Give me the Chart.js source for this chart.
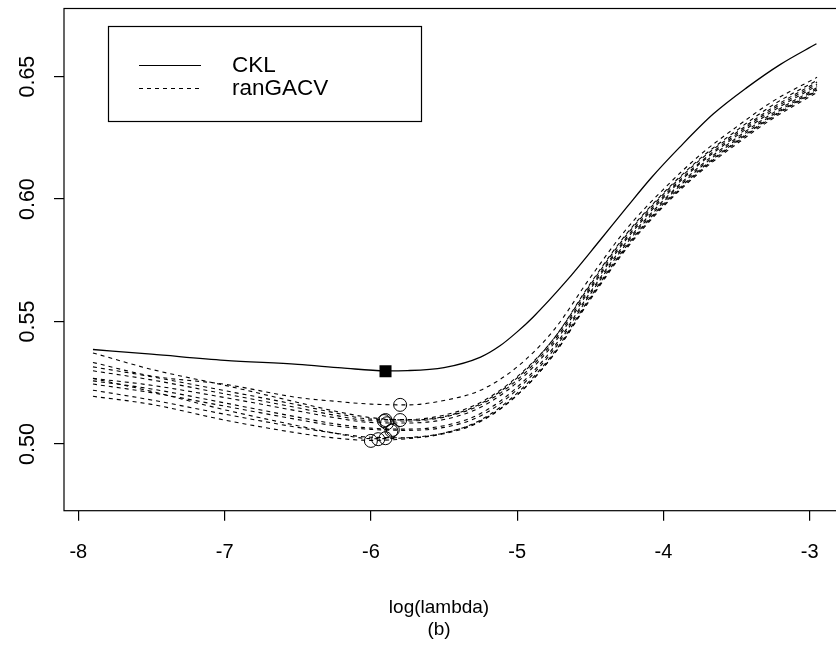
<!DOCTYPE html>
<html><head><meta charset="utf-8">
<script src="https://cdn.jsdelivr.net/npm/chart.js@4"></script>
<style>
html,body{margin:0;padding:0;background:#fff;overflow:hidden;width:836px;height:660px}
#wrap{width:860px;height:660px;position:relative}
</style></head><body><div id="wrap"><canvas id="c" width="860" height="660"></canvas></div>
<script>
// ---- data ----
const xTicks = [-8, -7, -6, -5, -4, -3];
const yTicks = [0.50, 0.55, 0.60, 0.65];
const seriesNames = ['CKL', 'ranGACV'];
const xTitle = ['log(lambda)', '(b)'];

const cklX = [-7.9, -7.5, -7.0, -6.5, -6.2, -5.9, -5.75, -5.5, -5.25, -5.12, -5.0, -4.89, -4.66, -4.435, -4.25, -4.08, -3.89, -3.66, -3.43, -3.2, -2.954];
const cklY = [0.5386, 0.5367, 0.5342, 0.5325, 0.5311, 0.5299, 0.5300, 0.5312, 0.5355, 0.5400, 0.5458, 0.5519, 0.5668, 0.5831, 0.5967, 0.6089, 0.6211, 0.6347, 0.6455, 0.6550, 0.6634];
const cklMinX = [-5.9];
const cklMinY = [0.5297];

const gacvX = [-7.9, -7.5, -7.0, -6.5, -6.25, -6.0, -5.75, -5.5, -5.25, -5.0, -4.75, -4.5, -4.25, -4.0, -3.75, -3.5, -3.25, -2.95];
const gacvA = [0.5333, 0.5278, 0.5244, 0.5190, 0.5175, 0.5163, 0.5160, 0.5178, 0.5220, 0.5315, 0.5465, 0.5680, 0.5880, 0.6040, 0.6180, 0.6295, 0.6400, 0.6497];
const gacvB = [0.5372, 0.5305, 0.5240, 0.5170, 0.5135, 0.5108, 0.5098, 0.5112, 0.5165, 0.5270, 0.5430, 0.5655, 0.5860, 0.6025, 0.6165, 0.6280, 0.6385, 0.6485];
const gacvC = [0.5315, 0.5275, 0.5218, 0.5160, 0.5128, 0.5102, 0.5100, 0.5118, 0.5170, 0.5275, 0.5430, 0.5650, 0.5855, 0.6020, 0.6160, 0.6272, 0.6375, 0.6478];
const gacvD = [0.5299, 0.5262, 0.5205, 0.5148, 0.5118, 0.5095, 0.5094, 0.5110, 0.5160, 0.5262, 0.5420, 0.5640, 0.5845, 0.6012, 0.6150, 0.6265, 0.6368, 0.6470];
const gacvE = [0.5268, 0.5240, 0.5190, 0.5135, 0.5108, 0.5088, 0.5086, 0.5100, 0.5150, 0.5252, 0.5410, 0.5632, 0.5838, 0.6005, 0.6145, 0.6258, 0.6360, 0.6463];
const gacvF = [0.5258, 0.5225, 0.5168, 0.5110, 0.5083, 0.5065, 0.5061, 0.5075, 0.5125, 0.5232, 0.5395, 0.5620, 0.5828, 0.5995, 0.6135, 0.6250, 0.6352, 0.6455];
const gacvG = [0.5245, 0.5210, 0.5155, 0.5100, 0.5075, 0.5060, 0.5056, 0.5068, 0.5115, 0.5222, 0.5385, 0.5612, 0.5820, 0.5988, 0.6128, 0.6243, 0.6345, 0.6450];
const gacvH = [0.5220, 0.5180, 0.5122, 0.5068, 0.5045, 0.5028, 0.5026, 0.5042, 0.5092, 0.5200, 0.5365, 0.5595, 0.5805, 0.5975, 0.6115, 0.6232, 0.6336, 0.6442];
const gacvI = [0.5268, 0.5215, 0.5140, 0.5075, 0.5045, 0.5022, 0.5026, 0.5045, 0.5098, 0.5208, 0.5372, 0.5600, 0.5810, 0.5980, 0.6120, 0.6236, 0.6340, 0.6445];
const gacvJ = [0.5195, 0.5162, 0.5098, 0.5045, 0.5025, 0.5015, 0.5022, 0.5045, 0.5095, 0.5200, 0.5365, 0.5590, 0.5800, 0.5970, 0.6110, 0.6225, 0.6330, 0.6435];
const gacvSeries = [gacvA, gacvB, gacvC, gacvD, gacvE, gacvF, gacvG, gacvH, gacvI, gacvJ];

const gacvMinX = [-5.80, -5.80, -5.90, -5.91, -5.89, -5.85, -5.86, -5.90, -5.95, -6.00];
const gacvMinY = [0.5160, 0.5098, 0.5098, 0.5094, 0.5085, 0.5058, 0.5054, 0.5024, 0.5020, 0.5013];

// ---- build ----
const FONT = '"Liberation Sans", Arial, Helvetica, sans-serif';
const zip = (xs, ys) => xs.map((x, i) => ({x, y: ys[i]}));
const DASH = [4, 4];

const datasets = [];
datasets.push({
  type: 'scatter', label: 'cklmin', data: zip(cklMinX, cklMinY), order: 0,
  pointStyle: 'rect', pointRadius: 8.5, backgroundColor: '#000', borderColor: '#000', borderWidth: 0
});
datasets.push({
  type: 'scatter', label: 'gacvmin', data: zip(gacvMinX, gacvMinY), order: 0,
  pointStyle: 'circle', pointRadius: 6.5, backgroundColor: 'rgba(0,0,0,0)', borderColor: '#000', borderWidth: 1
});
datasets.push({
  type: 'line', label: seriesNames[0], data: zip(cklX, cklY), order: 1,
  borderColor: '#000', borderWidth: 1.3, pointRadius: 0, fill: false, cubicInterpolationMode: 'monotone'
});
gacvSeries.forEach((ys, i) => datasets.push({
  type: 'line', label: seriesNames[1] + ' ' + (i + 1), data: zip(gacvX, ys), order: 2,
  borderColor: '#000', borderWidth: 1.1, borderDash: DASH, pointRadius: 0, fill: false,
  cubicInterpolationMode: 'monotone'
}));

const framePlugin = {
  id: 'frame',
  afterDatasetsDraw(chart) {
    const {ctx, chartArea: a} = chart;
    ctx.save();
    ctx.strokeStyle = '#000'; ctx.lineWidth = 1.2;
    ctx.strokeRect(a.left, a.top, a.right - a.left, a.bottom - a.top);
    ctx.restore();
  }
};

const titlePlugin = {
  id: 'xtitle',
  afterDraw(chart) {
    const ctx = chart.ctx;
    ctx.save();
    ctx.fillStyle = '#000';
    ctx.font = '19px ' + FONT;
    ctx.textAlign = 'center'; ctx.textBaseline = 'middle';
    ctx.fillText(xTitle[0], 439, 608);
    ctx.fillText(xTitle[1], 439, 630);
    ctx.restore();
  }
};

const legendPlugin = {
  id: 'rlegend',
  afterDraw(chart) {
    const ctx = chart.ctx;
    ctx.save();
    ctx.fillStyle = '#fff';
    ctx.fillRect(108.5, 26.5, 313, 95);
    ctx.strokeStyle = '#000'; ctx.lineWidth = 1.2;
    ctx.strokeRect(108.5, 26.5, 313, 95);
    const rows = [65, 88];
    ctx.lineWidth = 1.2;
    rows.forEach((y, i) => {
      ctx.setLineDash(i === 0 ? [] : DASH);
      ctx.beginPath(); ctx.moveTo(139, y + 0.5); ctx.lineTo(201, y + 0.5); ctx.stroke();
    });
    ctx.setLineDash([]);
    ctx.fillStyle = '#000';
    ctx.font = '22.5px ' + FONT;
    ctx.textBaseline = 'middle'; ctx.textAlign = 'left';
    rows.forEach((y, i) => ctx.fillText(seriesNames[i], 232, y + 1));
    ctx.restore();
  }
};

new Chart(document.getElementById('c'), {
  data: {datasets},
  options: {
    responsive: false, animation: false, events: [],
    layout: {padding: {left: 0, top: 7.3, right: 14, bottom: 0}},
    plugins: {legend: {display: false}, tooltip: {enabled: false}},
    scales: {
      x: {
        type: 'linear', min: -8.098, max: -2.752,
        afterBuildTicks: s => { s.ticks = xTicks.map(v => ({value: v})); },
        afterFit: s => { s.height = 149.3; s.paddingLeft = 0; s.paddingRight = 0; },
        grid: {display: true, drawOnChartArea: false, drawTicks: true, tickLength: 10, color: '#000', lineWidth: 1.2},
        border: {display: false},
        ticks: {color: '#000', font: {family: FONT, size: 20}, padding: 20, maxRotation: 0, minRotation: 0,
          callback: v => String(v)}
      },
      y: {
        type: 'linear', min: 0.4728, max: 0.6778,
        afterBuildTicks: s => { s.ticks = yTicks.map(v => ({value: v})); },
        afterFit: s => { s.width = 64; s.paddingTop = 0; s.paddingBottom = 0; },
        grid: {display: true, drawOnChartArea: false, drawTicks: true, tickLength: 10, color: '#000', lineWidth: 1.2},
        border: {display: false},
        ticks: {color: '#000', font: {family: FONT, size: 21.5}, padding: 5, minRotation: 90, maxRotation: 90,
          crossAlign: 'center', callback: v => v.toFixed(2)}
      }
    }
  },
  plugins: [framePlugin, legendPlugin, titlePlugin]
});
</script></body></html>
